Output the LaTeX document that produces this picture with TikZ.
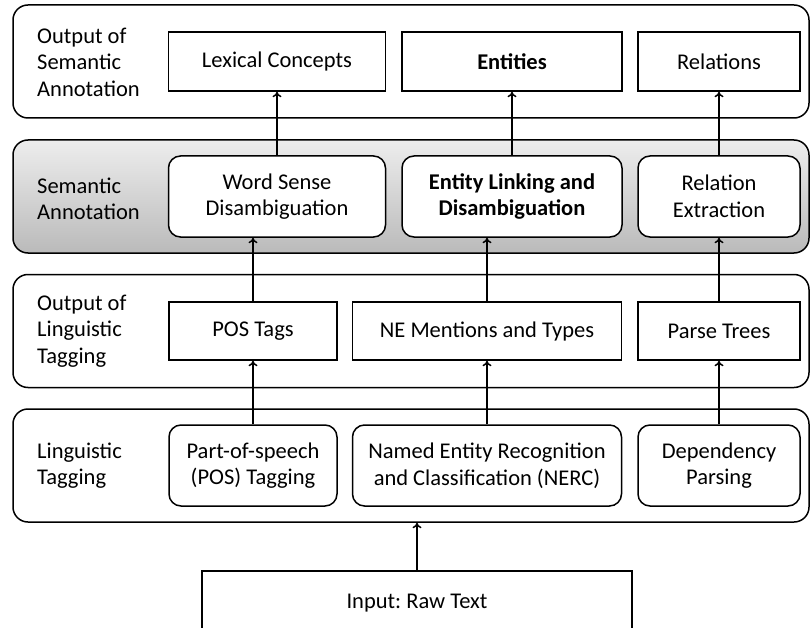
\documentclass[tikz,border=0pt]{standalone}
\usepackage{fontspec}
\setmainfont{Carlito}
\usetikzlibrary{arrows.meta}
\frenchspacing
\begin{document}
\begin{tikzpicture}[x=1pt,y=-1pt,
  every node/.style={font=\fontsize{22.5}{26.5}\selectfont},
  layer/.style={draw,line width=1.5pt,rounded corners=15pt,minimum width=796pt,minimum height=113pt,inner sep=0pt},
  outbox/.style={draw,line width=1.5pt,fill=white,inner sep=0pt,align=center},
  stepbox/.style={draw,line width=1.5pt,fill=white,rounded corners=12pt,inner sep=0pt,align=center},
  lbl/.style={anchor=west,align=left,inner sep=0pt},
  flow/.style={line width=1.5pt,-{To[length=5.5pt,width=9pt]}}]
\useasboundingbox (0,0) rectangle (810,628);
\clip (0,0) rectangle (810,628);

% layer frames
\node[layer] (semout) at (411,61.5) {};
\node[layer,top color=black!7,bottom color=black!27] (sem) at (411,196.5) {};
\node[layer] (lingout) at (411,331) {};
\node[layer] (ling) at (411,465.5) {};

% layer captions
\node[lbl] (c1) at (37,62) {Output of\\Semantic\\Annotation};
\node[lbl] (c2) at (37,199) {Semantic\\Annotation};
\node[lbl] (c3) at (37,331) {Output of\\Linguistic\\Tagging};
\node[lbl] (c4) at (37,465.5) {Linguistic\\Tagging};

% output of semantic annotation
\node[outbox,minimum width=217pt,minimum height=59pt] (lex) at (277,61.5) {Lexical Concepts};
\node[outbox,minimum width=220pt,minimum height=59pt] (ent) at (512,61.5) {\bfseries Entities};
\node[outbox,minimum width=162pt,minimum height=59pt] (rel) at (719,61.5) {Relations};

% semantic annotation steps
\node[stepbox,minimum width=217pt,minimum height=81pt] (wsd) at (277,196.5) {Word Sense\\Disambiguation};
\node[stepbox,minimum width=220pt,minimum height=81pt] (eld) at (512,196.5) {\bfseries Entity Linking and\\\bfseries Disambiguation};
\node[stepbox,minimum width=162pt,minimum height=81pt] (rex) at (719,196.5) {Relation\\Extraction};

% output of linguistic tagging
\node[outbox,minimum width=168pt,minimum height=58pt] (post) at (253,331) {POS Tags};
\node[outbox,minimum width=269pt,minimum height=58pt] (nem) at (487,331) {NE Mentions and Types};
\node[outbox,minimum width=162pt,minimum height=58pt] (pt) at (719,331) {Parse Trees};

% linguistic tagging steps
\node[stepbox,minimum width=168pt,minimum height=81pt] (pos) at (253,465.5) {Part-of-speech\\(POS) Tagging};
\node[stepbox,minimum width=269pt,minimum height=81pt] (nerc) at (487,465.5) {Named Entity Recognition\\and Classification (NERC)};
\node[stepbox,minimum width=162pt,minimum height=81pt] (dp) at (719,465.5) {Dependency\\Parsing};

% input
\node[outbox,minimum width=430pt,minimum height=64pt] (in) at (417,603) {Input: Raw Text};

% connectors
\draw[flow] (in.north) -- (in.north |- ling.south);
\draw[flow] (pos.north) -- (post.south);
\draw[flow] (nerc.north) -- (nem.south);
\draw[flow] (dp.north) -- (pt.south);
\draw[flow] (post.north) -- (post.north |- wsd.south);
\draw[flow] (nem.north) -- (nem.north |- eld.south);
\draw[flow] (pt.north) -- (rex.south);
\draw[flow] (wsd.north) -- (lex.south);
\draw[flow] (eld.north) -- (ent.south);
\draw[flow] (rex.north) -- (rel.south);
\end{tikzpicture}
\end{document}
